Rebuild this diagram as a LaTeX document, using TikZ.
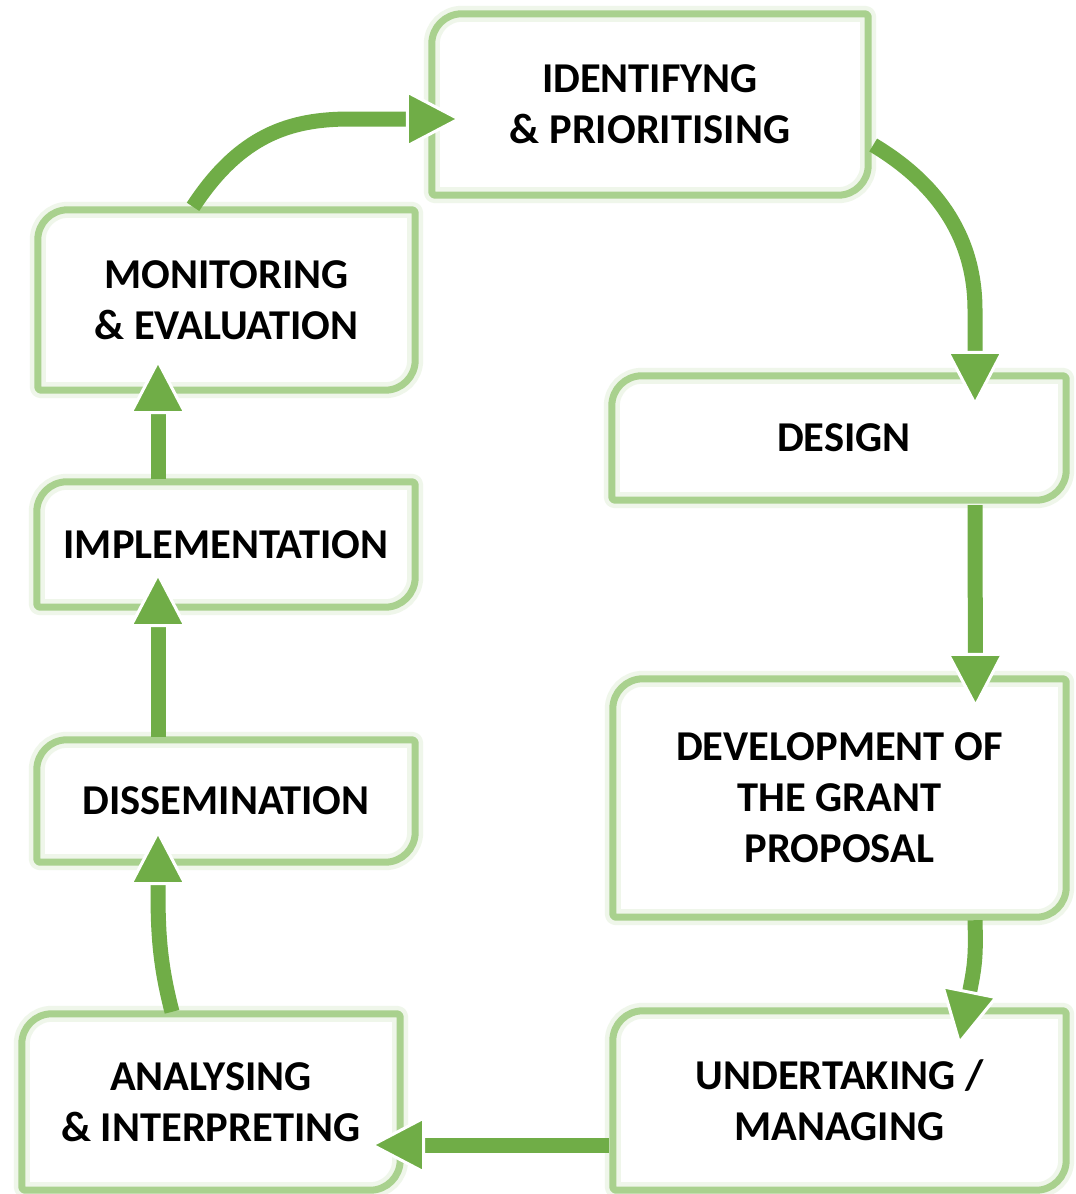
\documentclass[tikz,border=0pt]{standalone}
\usepackage{fontspec}
\setmainfont{Carlito}
\usetikzlibrary{arrows.meta,calc}
\definecolor{framegreen}{HTML}{A9D18E}
\definecolor{arrowgreen}{HTML}{70AD47}
\tikzset{
  stage/.style={rectangle, draw=none, inner sep=0pt, align=center,
    font=\bfseries\fontsize{42.5}{51}\selectfont},
  frame/.style={draw=framegreen, line width=7pt, line join=round},
  glow/.style={draw=framegreen, line width=16pt, opacity=0.18, line join=round},
  conn/.style={draw=arrowgreen, line width=15pt, shorten >=-9pt,
    -{Triangle[length=56pt,width=58pt,color=white,fill=arrowgreen,line width=3pt]}}
}
\newcommand\stageframe[1]{%
  \foreach \sty in {glow,frame}{%
  \draw[\sty] ([yshift=-30pt]#1.north west) arc[start angle=180,end angle=90,radius=30pt]
    -- ([xshift=-3pt]#1.north east) arc[start angle=90,end angle=0,radius=3pt]
    -- ([yshift=30pt]#1.south east) arc[start angle=0,end angle=-90,radius=30pt]
    -- ([xshift=3pt]#1.south west) arc[start angle=270,end angle=180,radius=3pt]
    -- cycle;}%
}
\begin{document}
\begin{tikzpicture}[x=1pt,y=1pt]
\useasboundingbox[fill=white] (0,0) rectangle (1076,-1194);

\node[stage, minimum width=436pt, minimum height=181pt] (A) at (650,-104.5) {IDENTIFYNG\\\& PRIORITISING};
\node[stage, minimum width=454pt, minimum height=124pt] (B) at (839,-438) {\hspace*{10pt}DESIGN};
\node[stage, minimum width=453pt, minimum height=238pt] (C) at (839.5,-798) {DEVELOPMENT OF\\THE GRANT\\PROPOSAL};
\node[stage, minimum width=453pt, minimum height=179pt] (D) at (839.5,-1100.5) {UNDERTAKING /\\MANAGING};
\node[stage, minimum width=378pt, minimum height=176pt] (E) at (211,-1102) {ANALYSING\\\& INTERPRETING};
\node[stage, minimum width=378pt, minimum height=122pt] (F) at (226,-801) {DISSEMINATION};
\node[stage, minimum width=378pt, minimum height=125pt] (G) at (226,-544.5) {IMPLEMENTATION};
\node[stage, minimum width=377pt, minimum height=180pt] (H) at (226.5,-300) {MONITORING\\\& EVALUATION};

\stageframe{A}\stageframe{B}\stageframe{C}\stageframe{D}
\stageframe{E}\stageframe{F}\stageframe{G}\stageframe{H}

% connectors
\draw[conn] ([shift={(-33.5,3)}]H.north) .. controls (240,-135) and (290,-119) .. (350,-119)
  -- ([shift={(21,-14.5)}]A.west);
\draw[conn] ([shift={(5,-40.5)}]A.east) .. controls (940,-185) and (975,-240) .. (975,-310)
  -- ([shift={(136,-22)}]B.north);
\draw[conn] ([shift={(136,-5)}]B.south) -- ([shift={(136,-21)}]C.north);
\draw[conn] ([shift={(135.5,-3)}]C.south) .. controls (976,-955) and (975,-965)
  .. ([shift={(121,-26)}]D.north);
\draw[conn] ([shift={(-4,-44.5)}]D.west) -- ([shift={(-22,-43)}]E.east);
\draw[conn] ([shift={(-39,2)}]E.north) .. controls (160,-965) and (158,-935) .. (158,-890)
  -- ([shift={(-68,24)}]F.south);
\draw[conn] ([shift={(-68,3)}]F.north) -- ([shift={(-68,27)}]G.south);
\draw[conn] ([shift={(-68,3)}]G.north) -- ([shift={(-68.5,23)}]H.south);
\end{tikzpicture}
\end{document}
